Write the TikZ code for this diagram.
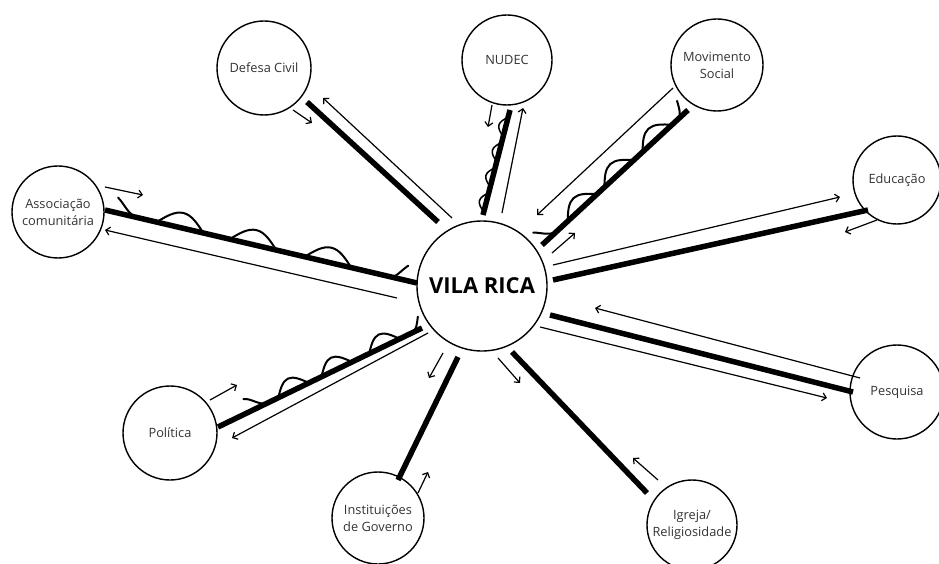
\documentclass[tikz,border=0pt]{standalone}
\usepackage{fontspec}
\setmainfont{Open Sans}
\usetikzlibrary{arrows.meta,calc}
% hump: centre #1, base width #2, height #3 (sine-like)
\newcommand\wavehump[3]{-- ({#1-#2/2},0) .. controls ({#1-#2/2+0.167*#2},{0.525*#3}) and ({#1-#2/2+0.32*#2},#3) .. (#1,#3) .. controls ({#1+#2/2-0.32*#2},#3) and ({#1+#2/2-0.167*#2},{0.525*#3}) .. ({#1+#2/2},0)}
\tikzset{
  actor/.style={circle,draw,line width=1.4pt,minimum size=#1,inner sep=0pt,align=center,
    font=\fontsize{12.8}{17}\selectfont,text=black!80},
  actor/.default=94pt,
  heavy/.style={line width=5.5pt},
  lite/.style={line width=1.2pt,-{Straight Barb[length=4pt,width=8pt,line width=1.2pt]}},
  wave/.style={line width=2pt,line join=round,line cap=round},
}
\begin{document}
\begin{tikzpicture}[x=1pt,y=1pt]
\useasboundingbox (0,0) rectangle (939,563);
% nodes
\node[actor=130pt,font=\fontsize{22}{26}\selectfont\bfseries,text=black] (vr) at (482,277) {VILA RICA};
\node[actor] (def) at (264,495) {Defesa Civil};
\node[actor=90pt] (nud) at (507,503) {NUDEC};
\node[actor=92pt] (mov) at (717,498) {Movimento\\Social};
\node[actor=88pt] (edu) at (897,383) {Educação};
\node[actor] (pes) at (897,171) {Pesquisa};
\node[actor=90pt] (igr) at (692,38) {Igreja/\\Religiosidade};
\node[actor=92pt] (ins) at (378,45) {Instituições\\de Governo};
\node[actor] (pol) at (170,130) {Política};
\node[actor=92pt] (ass) at (58,351) {Associação\\comunitária};

% Associação comunitária
\draw[heavy] ($(ass)+(47,2)$) -- ($(vr)+(-65,3)$);
\draw[lite] ($(vr)+(-85,-12)$) -- ($(ass)+(47,-18)$);
\draw[lite] ($(ass)+(47,25)$) -- ($(ass)+(85,17)$);
\begin{scope}[shift={($(ass)+(47,2)$)},rotate=-13.2]
\draw[wave] (10,15) .. controls (18,10) and (24,0) .. (34,0) \wavehump{77}{48}{15} \wavehump{152}{48}{15} \wavehump{229}{48}{15} -- (292,0) .. controls (299,0) and (302,9) .. (308,15);
\end{scope}

% Defesa Civil
\draw[heavy] ($(def)+(43,-34)$) -- ($(vr)+(-44,64)$);
\draw[lite] ($(vr)+(-30,68)$) -- ($(def)+(59,-30)$);
\draw[lite] ($(def)+(29,-42)$) -- ($(def)+(48,-55)$);

% NUDEC
\draw[heavy] ($(nud)+(3,-50)$) -- ($(vr)+(1,71)$);
\draw[lite] ($(vr)+(20,73)$) -- ($(nud)+(16,-48)$);
\draw[lite] ($(nud)+(-15,-45)$) -- ($(nud)+(-19,-67)$);
\begin{scope}[shift={($(vr)+(1,71)$)},rotate=75.6]
\draw[wave,line width=1.5pt] (1,0) \wavehump{13}{20}{7} \wavehump{39}{20}{7} \wavehump{65}{20}{7} \wavehump{91}{20}{7} -- (104,0);
\end{scope}

% Movimento Social
\draw[heavy] ($(mov)+(-29,-45)$) -- ($(vr)+(60,41)$);
\draw[lite] ($(mov)+(-44,-23)$) -- ($(vr)+(55,71)$);
\draw[lite] ($(vr)+(70,33)$) -- ($(vr)+(93,53)$);
\begin{scope}[shift={($(vr)+(60,41)$)},rotate=42.8]
\draw[wave] (2,15) .. controls (8,10) and (12,0) .. (22,0) \wavehump{55}{40}{13} \wavehump{105}{40}{13} \wavehump{157}{40}{13} -- (185,0) .. controls (190,0) and (193,6) .. (197,14);
\end{scope}

% Educação
\draw[heavy] ($(edu)+(-29,-30)$) -- ($(vr)+(71,6)$);
\draw[lite] ($(vr)+(71,21)$) -- ($(edu)+(-57,-17)$);
\draw[lite] ($(edu)+(-20,-40)$) -- ($(edu)+(-52,-52)$);

% Pesquisa
\draw[heavy] ($(vr)+(68,-29)$) -- ($(pes)+(-44,0)$);
\draw[lite] ($(pes)+(-37,14)$) -- ($(vr)+(113,-22)$);
\draw[lite] ($(vr)+(58,-41)$) -- ($(pes)+(-70,-6)$);

% Igreja/Religiosidade
\draw[heavy] ($(vr)+(30,-66)$) -- ($(igr)+(-45,32)$);
\draw[lite] ($(vr)+(16,-72)$) -- ($(vr)+(38,-97)$);
\draw[lite] ($(igr)+(-34,45)$) -- ($(igr)+(-59,67)$);

% Instituições de Governo
\draw[heavy] ($(vr)+(-24,-71)$) -- ($(ins)+(20,38)$);
\draw[lite] ($(vr)+(-39,-67)$) -- ($(vr)+(-53,-92)$);
\draw[lite] ($(ins)+(40,25)$) -- ($(ins)+(50,46)$);

% Política
\draw[heavy] ($(pol)+(48,6)$) -- ($(vr)+(-60,-42)$);
\draw[lite] ($(vr)+(-54,-47)$) -- ($(pol)+(62,-5)$);
\draw[lite] ($(pol)+(40,33)$) -- ($(pol)+(67,48)$);
\begin{scope}[shift={($(pol)+(48,6)$)},rotate=25.9]
\draw[wave] (35,14) .. controls (42,12) and (46,2) .. (54,0) \wavehump{84}{34}{13} \wavehump{132}{34}{13} \wavehump{185}{34}{13} -- (215,0) .. controls (221,0) and (224,6) .. (228,12);
\end{scope}
\end{tikzpicture}
\end{document}
